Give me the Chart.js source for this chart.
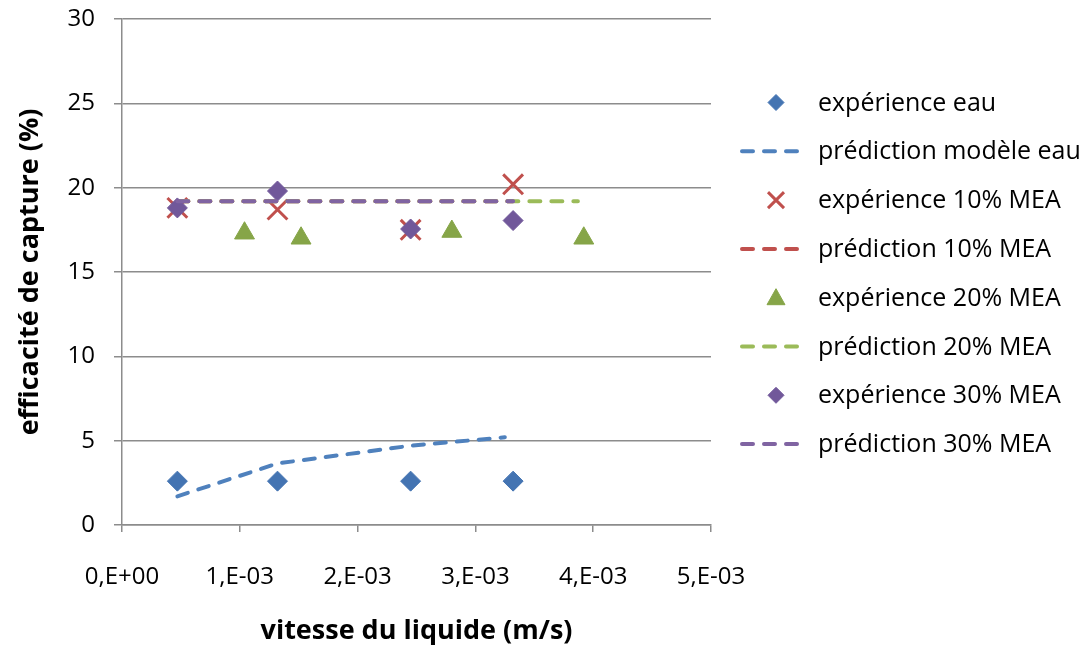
<!DOCTYPE html>
<html>
<head>
<meta charset="utf-8">
<script src="https://cdn.jsdelivr.net/npm/chart.js@4.4.1/dist/chart.umd.min.js"></script>
<style>
  html, body { margin: 0; padding: 0; background: #fff; }
  #wrap { width: 1092px; height: 648px; }
</style>
</head>
<body>
<div id="wrap"><canvas id="chart" width="1092" height="648"></canvas></div>
<script>
// vitesse du liquide (m/s)
var vitesse = [0.00047, 0.00132, 0.00245, 0.00332];
var vitesse20 = [0.00104, 0.00152, 0.00280, 0.00392];

// experiences (%)
var expEau = [2.6, 2.6, 2.6, 2.6];
var exp10 = [18.8, 18.7, 17.5, 20.2];
var exp20 = [17.3, 17.0, 17.4, 17.0];
var exp30 = [18.8, 19.8, 17.55, 18.05];

// predictions modele
var predEauX = [0.00047, 0.00132, 0.00245, 0.00325];
var predEauY = [1.7, 3.65, 4.7, 5.2];
var pred10X = [0.00047, 0.00332];
var pred10Y = [19.2, 19.2];
var pred20X = [0.00047, 0.00387];
var pred20Y = [19.2, 19.2];
var pred30X = [0.00047, 0.00332];
var pred30Y = [19.2, 19.2];

var xTickLabels = ['0,E+00', '1,E-03', '2,E-03', '3,E-03', '4,E-03', '5,E-03'];
var yTickLabels = ['0', '5', '10', '15', '20', '25', '30'];

var legendLabels = ['expérience eau', 'prédiction modèle eau', 'expérience 10% MEA', 'prédiction 10% MEA',
                    'expérience 20% MEA', 'prédiction 20% MEA', 'expérience 30% MEA', 'prédiction 30% MEA'];

var FONT = 'Open Sans';

function pts(xs, ys) {
    return xs.map(function (x, i) { return { x: x, y: ys[i] }; });
}

function marker(label, xs, ys, style, color, radius, order) {
    return {
        label: label,
        data: pts(xs, ys),
        showLine: false,
        pointStyle: style,
        pointRadius: radius,
        pointHoverRadius: radius,
        pointBackgroundColor: color,
        pointBorderColor: color,
        pointBorderWidth: style === 'crossRot' ? 3 : 1,
        order: order
    };
}

function dashed(label, xs, ys, color, order) {
    return {
        label: label,
        data: pts(xs, ys),
        showLine: true,
        borderColor: color,
        borderWidth: 4,
        borderDash: [11, 11],
        borderCapStyle: 'round',
        pointRadius: 0,
        pointHoverRadius: 0,
        fill: false,
        order: order
    };
}

var datasets = [
    marker(legendLabels[0], vitesse, expEau, 'rectRot', '#4474b2', 10, 8),
    dashed(legendLabels[1], predEauX, predEauY, '#4f81bd', 7),
    marker(legendLabels[2], vitesse, exp10, 'crossRot', '#c0504d', 14, 6),
    dashed(legendLabels[3], pred10X, pred10Y, '#c0504d', 5),
    marker(legendLabels[4], vitesse20, exp20, 'triangle', '#86a548', 11.5, 4),
    dashed(legendLabels[5], pred20X, pred20Y, '#9bbb59', 3),
    marker(legendLabels[6], vitesse, exp30, 'rectRot', '#71589a', 10, 2),
    dashed(legendLabels[7], pred30X, pred30Y, '#8064a2', 1)
];

// legend drawn by hand on the right, Excel style
var legendPlugin = {
    id: 'excelLegend',
    afterDraw: function (chart) {
        var ctx = chart.ctx;
        var x0 = 740, x1 = 802, cx = 776, tx = 818;
        var y0 = 102.5, step = 48.8;
        ctx.save();
        ctx.font = '25px ' + FONT;
        ctx.textBaseline = 'middle';
        ctx.textAlign = 'left';
        chart.data.datasets.forEach(function (ds, i) {
            var y = y0 + i * step;
            if (ds.showLine) {
                ctx.strokeStyle = ds.borderColor;
                ctx.lineWidth = 4;
                ctx.lineCap = 'round';
                ctx.setLineDash([11, 11]);
                ctx.beginPath();
                ctx.moveTo(x0 + 2, y);
                ctx.lineTo(x1 - 2, y);
                ctx.stroke();
                ctx.setLineDash([]);
            } else {
                ctx.fillStyle = ds.pointBackgroundColor;
                ctx.strokeStyle = ds.pointBorderColor;
                ctx.lineCap = 'butt';
                var r = 8;
                ctx.beginPath();
                if (ds.pointStyle === 'rectRot') {
                    ctx.moveTo(cx - r, y); ctx.lineTo(cx, y - r);
                    ctx.lineTo(cx + r, y); ctx.lineTo(cx, y + r);
                    ctx.closePath();
                    ctx.lineWidth = 1;
                    ctx.fill(); ctx.stroke();
                } else if (ds.pointStyle === 'crossRot') {
                    ctx.lineWidth = 3;
                    ctx.moveTo(cx - 8, y - 8); ctx.lineTo(cx + 8, y + 8);
                    ctx.moveTo(cx + 8, y - 8); ctx.lineTo(cx - 8, y + 8);
                    ctx.stroke();
                } else {
                    ctx.moveTo(cx, y - 9); ctx.lineTo(cx + 9, y + 7);
                    ctx.lineTo(cx - 9, y + 7);
                    ctx.closePath();
                    ctx.lineWidth = 1;
                    ctx.fill(); ctx.stroke();
                }
            }
            ctx.fillStyle = '#000';
            ctx.fillText(ds.label, tx, y + 1);
        });
        ctx.restore();
    }
};

new Chart(document.getElementById('chart').getContext('2d'), {
    type: 'scatter',
    data: { datasets: datasets },
    options: {
        responsive: false,
        animation: false,
        events: [],
        layout: { autoPadding: false, padding: { top: 19, right: 381, left: 0, bottom: 0 } },
        plugins: {
            legend: { display: false },
            tooltip: { enabled: false }
        },
        scales: {
            x: {
                type: 'linear',
                min: 0,
                max: 0.005,
                afterFit: function (s) { s.height = 123; },
                ticks: {
                    stepSize: 0.001,
                    padding: 31,
                    color: '#000',
                    font: { family: FONT, size: 24 },
                    maxRotation: 0,
                    callback: function (v, i) { return xTickLabels[i]; }
                },
                grid: {
                    drawOnChartArea: false,
                    drawTicks: true,
                    tickLength: 7,
                    color: '#8c8c8c',
                    lineWidth: 1.5
                },
                border: { color: '#8c8c8c', width: 1.5 },
                title: {
                    display: true,
                    text: 'vitesse du liquide (m/s)',
                    color: '#000',
                    font: { family: FONT, size: 27, weight: 'bold' },
                    padding: { top: 0, bottom: 0 }
                }
            },
            y: {
                min: 0,
                max: 30,
                // fixed width, and no extra room above the plot for the top label
                afterFit: function (s) {
                    s.width = 122;
                    s.paddingTop = 0;
                    s.paddingBottom = 0;
                },
                ticks: {
                    stepSize: 5,
                    padding: 19,
                    color: '#000',
                    font: { family: FONT, size: 24 },
                    callback: function (v, i) { return yTickLabels[i]; }
                },
                grid: {
                    color: '#8c8c8c',
                    lineWidth: 1.5,
                    tickLength: 8
                },
                border: { color: '#8c8c8c', width: 1.5 },
                title: {
                    display: true,
                    text: 'efficacité de capture (%)',
                    color: '#000',
                    font: { family: FONT, size: 27, weight: 'bold' },
                    padding: { top: 14, bottom: 0 }
                }
            }
        }
    },
    plugins: [legendPlugin]
});
</script>
</body>
</html>
